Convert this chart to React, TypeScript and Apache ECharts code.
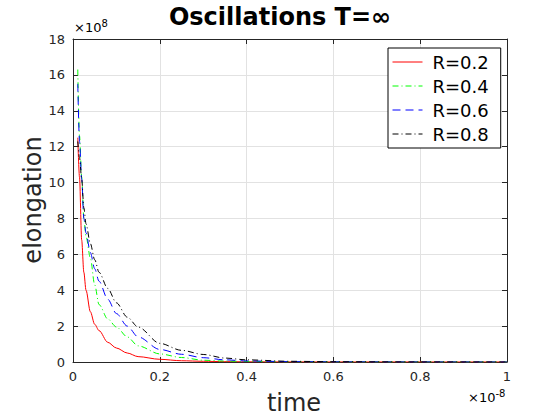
import React, { useEffect, useRef } from "react";
import * as echarts from "echarts";

const times = [0.011, 0.015, 0.02, 0.025, 0.03, 0.04, 0.05, 0.06, 0.08, 0.1, 0.125, 0.15, 0.2, 0.25, 0.3, 0.35, 0.4, 0.5, 0.6, 0.8, 1.0];
const r02 = [12.5, 10.3, 6.8, 5.0, 4.0, 2.8, 2.1, 1.75, 1.1, 0.78, 0.5, 0.3, 0.15, 0.07, 0.04, 0.02, 0.01, 0.005, 0.002, 0.001, 0];
const r04 = [16.3, 12.6, 10.3, 8.0, 7.0, 5.8, 4.3, 3.2, 2.4, 1.95, 1.4, 0.9, 0.45, 0.25, 0.1, 0.05, 0.03, 0.01, 0.005, 0.001, 0];
const r06 = [15.5, 12.3, 10.2, 8.0, 7.2, 6.1, 5.2, 4.5, 3.5, 2.7, 2.0, 1.4, 0.7, 0.43, 0.24, 0.12, 0.06, 0.02, 0.008, 0.002, 0];
const r08 = [12.3, 11.4, 10.2, 8.6, 7.7, 6.6, 5.7, 5.0, 4.1, 3.3, 2.5, 1.95, 1.04, 0.65, 0.42, 0.22, 0.12, 0.04, 0.015, 0.003, 0];
const seriesNames = ["R=0.2", "R=0.4", "R=0.6", "R=0.8"];
const xTicks = [0, 0.2, 0.4, 0.6, 0.8, 1];
const yTicks = [0, 2, 4, 6, 8, 10, 12, 14, 16, 18];

const FONT = "DejaVu Sans";
const AX = "#262626";

export default function App() {
  const ref = useRef<HTMLDivElement>(null);
  useEffect(() => {
    const chart = echarts.init(ref.current!, undefined, { renderer: "svg" });
    const values = [r02, r04, r06, r08];
    const colors = ["#ff0000", "#00ff00", "#0000ff", "#000000"];
    const dashes: any[] = ["solid", [6, 3, 1, 3], [8, 5], [6, 3, 1, 3]];
    const axisBase = (pos: string, showLabel: boolean) => ({
      position: pos,
      axisLine: { show: true, onZero: false, lineStyle: { color: AX, width: 1 } },
      axisTick: { show: true, inside: true, length: 5, lineStyle: { color: AX } },
      axisLabel: { show: showLabel, color: AX, fontSize: 13, fontFamily: FONT },
    });
    chart.setOption({
      animation: false,
      backgroundColor: "#ffffff",
      textStyle: { fontFamily: FONT },
      grid: { left: 73, right: 53, top: 39, bottom: 58, containLabel: false },
      xAxis: [
        {
          type: "value", min: xTicks[0], max: xTicks[xTicks.length - 1], interval: 0.2,
          ...axisBase("bottom", true),
          axisLabel: { color: AX, fontSize: 13, fontFamily: FONT, margin: 8, formatter: (v: number) => String(+v.toFixed(1)) },
          splitLine: { show: true, lineStyle: { color: "#e2e2e2", width: 1 } },
        },
        {
          type: "value", min: 0, max: 1, interval: 0.2,
          ...axisBase("top", false),
          splitLine: { show: false },
        },
      ],
      yAxis: [
        {
          type: "value", min: yTicks[0], max: yTicks[yTicks.length - 1], interval: 2,
          ...axisBase("left", true),
          axisLabel: { color: AX, fontSize: 13, fontFamily: FONT, margin: 8 },
          splitLine: { show: true, lineStyle: { color: "#e2e2e2", width: 1 } },
        },
        {
          type: "value", min: 0, max: 18, interval: 2,
          ...axisBase("right", false),
          splitLine: { show: false },
        },
      ],
      legend: {
        orient: "vertical",
        left: 388,
        top: 48,
        width: 109,
        padding: [4, 12, 4, 4],
        backgroundColor: "#ffffff",
        borderColor: "#000000",
        borderWidth: 1,
        borderRadius: 0,
        itemWidth: 30,
        itemHeight: 13,
        itemGap: 4,
        itemStyle: { opacity: 0 },
        lineStyle: { width: 1 },
        textStyle: { fontSize: 18, fontFamily: FONT, color: "#000000", lineHeight: 20, padding: [0, 0, 0, 5] },
        data: seriesNames,
      },
      series: seriesNames.map((name, i) => ({
        name,
        type: "line",
        data: times.map((t, j) => [t, values[i][j]]),
        showSymbol: false,
        symbol: "none",
        smooth: 0.3,
        smoothMonotone: "x",
        color: colors[i],
        lineStyle: { color: colors[i], width: 1, type: dashes[i] },
        clip: true,
      })),
      graphic: [
        {
          type: "text", left: "center", x: 290, top: 5,
          style: { text: "Oscillations T=∞", font: `bold 24px '${FONT}'`, fill: "#000000" },
        },
        {
          type: "text", x: 294, y: 403,
          style: { text: "time", font: `24px '${FONT}'`, fill: AX, textAlign: "center", textVerticalAlign: "middle" },
        },
        {
          type: "text", x: 33, y: 200, rotation: Math.PI / 2,
          style: { text: "elongation", font: `24px '${FONT}'`, fill: AX, textAlign: "center", textVerticalAlign: "middle" },
        },
        {
          type: "text", x: 74, y: 36,
          style: {
            text: "{a|×10}{b|8}", textVerticalAlign: "bottom",
            rich: {
              a: { fontSize: 13, fontFamily: FONT, color: AX },
              b: { fontSize: 10, fontFamily: FONT, color: AX, verticalAlign: "top", padding: [0, 0, 8, 0] },
            },
          },
        },
        {
          type: "text", x: 468, y: 406,
          style: {
            text: "{a|×10}{b|-8}", textVerticalAlign: "bottom",
            rich: {
              a: { fontSize: 13, fontFamily: FONT, color: AX },
              b: { fontSize: 10, fontFamily: FONT, color: AX, verticalAlign: "top", padding: [0, 0, 8, 0] },
            },
          },
        },
      ],
    });
    return () => chart.dispose();
  }, []);
  return <div ref={ref} style={{ width: 560, height: 420, position: "absolute", left: 0, top: 0 }} />;
}
